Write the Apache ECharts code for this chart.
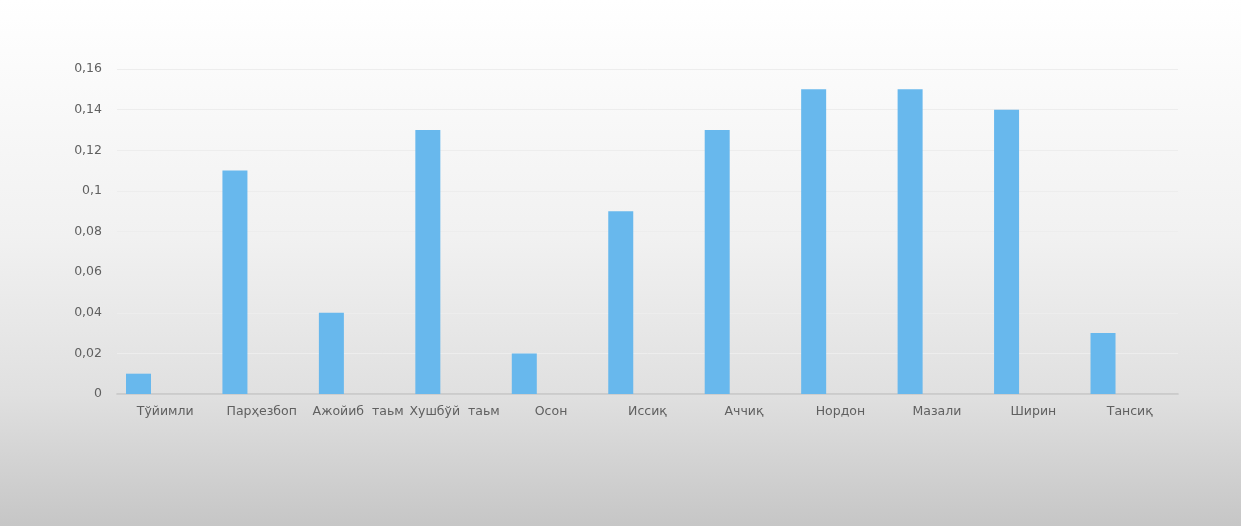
<!DOCTYPE html>
<html><head><meta charset="utf-8">
<script src="https://cdn.jsdelivr.net/npm/echarts@6/dist/echarts.min.js"></script>
<style>html,body{margin:0;padding:0;}#c{width:1241px;height:526px;}</style>
</head><body><div id="c"></div>
<script>
const categories = ['Тўйимли','Парҳезбоп','Ажойиб  таьм','Хушбўй  таьм','Осон','Иссиқ','Аччиқ','Нордон','Мазали','Ширин','Тансиқ'];
const values = [0.01,0.11,0.04,0.13,0.02,0.09,0.13,0.15,0.15,0.14,0.03];
const emptySeries = ['-','-','-','-','-','-','-','-','-','-','-'];
const yTicks = {min:0, max:0.16, interval:0.02};

const chart = echarts.init(document.getElementById('c'));
chart.setOption({
  backgroundColor: new echarts.graphic.LinearGradient(0,0,0,1,[
    {offset:0,color:'#ffffff'},{offset:0.45,color:'#f1f1f1'},{offset:0.75,color:'#e0e0e0'},{offset:1,color:'#c6c6c6'}]),
  animation:false,
  grid:{left:117,right:63,top:69,bottom:132},
  xAxis:{type:'category',data:categories,
    axisLine:{lineStyle:{color:'#c3c3c3',width:1.5}},
    axisTick:{show:false},
    axisLabel:{color:'#606060',fontSize:12.5,fontFamily:'DejaVu Sans',margin:11,interval:0}},
  yAxis:{type:'value',min:yTicks.min,max:yTicks.max,interval:yTicks.interval,
    axisLine:{show:false},axisTick:{show:false},
    splitLine:{lineStyle:{color:'#ededed',width:1}},
    axisLabel:{color:'#606060',fontSize:12.5,fontFamily:'DejaVu Sans',margin:15,
      formatter:v=>String(+v.toFixed(2)).replace('.',',')}},
  series:[
    {type:'bar',data:values,barWidth:25,barGap:'114%',itemStyle:{color:'#68b8ed'}},
    {type:'bar',data:emptySeries,barWidth:25}
  ]
});
</script></body></html>
